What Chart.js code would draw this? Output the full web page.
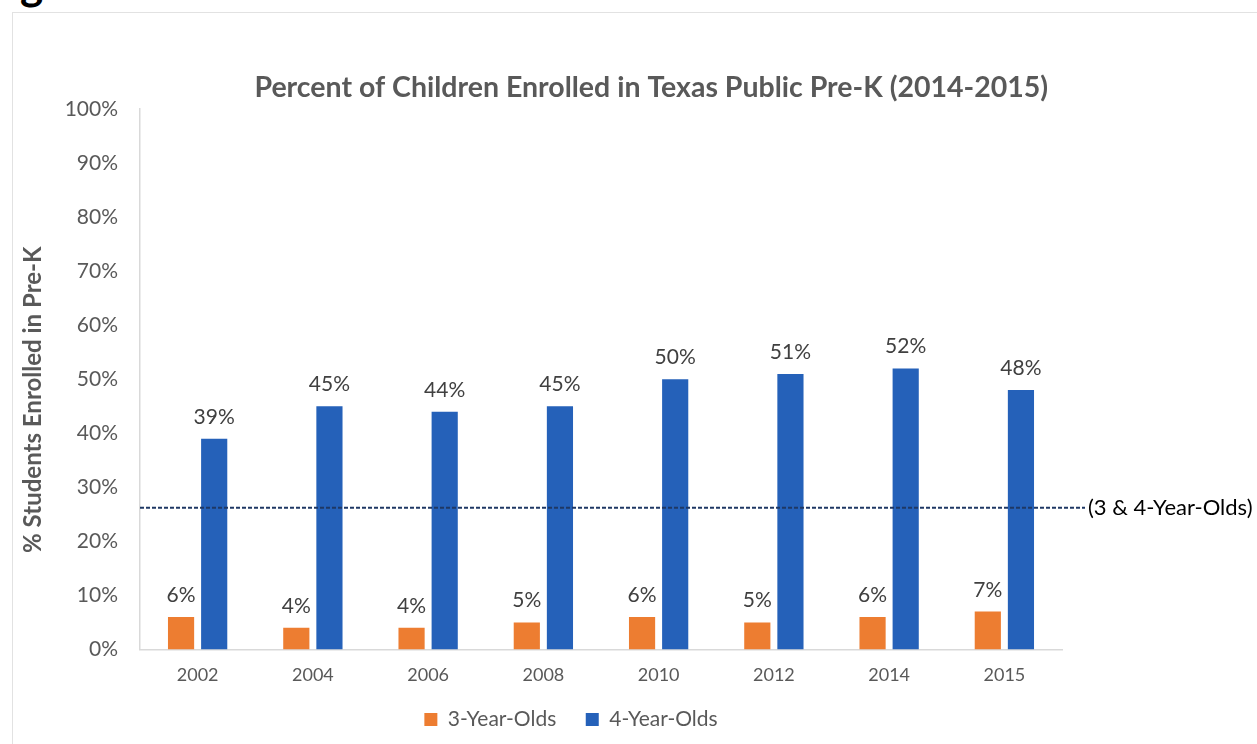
<!DOCTYPE html>
<html>
<head>
<meta charset="utf-8">
<script src="https://cdn.jsdelivr.net/npm/chart.js@4/dist/chart.umd.min.js"></script>
<style>
  html, body { margin: 0; padding: 0; background: #fff; overflow: hidden; }
  #fig { position: absolute; left: -16px; top: -39px; font: bold 44px Lato, sans-serif; line-height: 44px; color: #000; white-space: nowrap; }
  #frame { position: absolute; left: 12px; top: 12px; width: 1300px; height: 800px; border: 1px solid #e2e2e2; }
  #wrap { position: absolute; left: 0; top: 0; width: 1257px; height: 744px; }
</style>
</head>
<body>
<div id="fig">Figure 1</div>
<div id="frame"></div>
<div id="wrap"><canvas id="enrollChart" width="1257" height="744"></canvas></div>
<script>
// Data
const years = ['2002', '2004', '2006', '2008', '2010', '2012', '2014', '2015'];
const threeYearOlds = [6, 4, 4, 5, 6, 5, 6, 7];
const fourYearOlds = [39, 45, 44, 45, 50, 51, 52, 48];
const combinedLine = [26.2]; // dashed line, 3 & 4 year olds
const yTicks = [0, 10, 20, 30, 40, 50, 60, 70, 80, 90, 100];

const textGray = '#595959';
const fontFamily = 'Lato, sans-serif';

// bar value labels, like Excel data labels
const valueLabels = {
  id: 'valueLabels',
  afterDatasetsDraw(chart) {
    const ctx = chart.ctx;
    ctx.save();
    ctx.font = '21px ' + fontFamily;
    ctx.fillStyle = '#404040';
    ctx.textAlign = 'center';
    ctx.textBaseline = 'alphabetic';
    chart.data.datasets.forEach((ds, i) => {
      chart.getDatasetMeta(i).data.forEach((bar, j) => {
        ctx.fillText(ds.data[j] + '%', bar.x, bar.y - 15);
      });
    });
    ctx.restore();
  }
};

// dashed reference line with its label on the right
const refLine = {
  id: 'refLine',
  afterDatasetsDraw(chart) {
    const ctx = chart.ctx;
    const area = chart.chartArea;
    const y = chart.scales.y.getPixelForValue(combinedLine[0]);
    ctx.save();
    ctx.strokeStyle = '#1F3864';
    ctx.lineWidth = 2;
    ctx.setLineDash([4, 2]);
    ctx.beginPath();
    ctx.moveTo(area.left, y);
    ctx.lineTo(area.right + 23, y);
    ctx.stroke();
    ctx.setLineDash([]);
    ctx.font = '22px ' + fontFamily;
    ctx.fillStyle = '#000';
    ctx.textAlign = 'left';
    ctx.textBaseline = 'middle';
    ctx.fillText('(3 & 4-Year-Olds)', area.right + 26, y);
    ctx.restore();
  }
};

const ctx = document.getElementById('enrollChart').getContext('2d');
const enrollChart = new Chart(ctx, {
  type: 'bar',
  data: {
    labels: years,
    datasets: [{
      label: '3-Year-Olds',
      data: threeYearOlds,
      backgroundColor: '#ED7D31',
      categoryPercentage: 0.575,
      barPercentage: 0.79
    }, {
      label: '4-Year-Olds',
      data: fourYearOlds,
      backgroundColor: '#2561B9',
      categoryPercentage: 0.575,
      barPercentage: 0.79
    }]
  },
  options: {
    responsive: false,
    animation: false,
    layout: { padding: { top: 62, left: 10, right: 125, bottom: 4 } },
    plugins: {
      title: {
        display: true,
        fullSize: false,
        align: 'end',
        text: 'Percent of Children Enrolled in Texas Public Pre-K (2014-2015)\u00A0\u00A0',
        color: textGray,
        font: { family: fontFamily, size: 28.5, weight: 'bold' },
        padding: { top: 9, bottom: 4 }
      },
      legend: {
        position: 'bottom',
        labels: {
          color: textGray,
          font: { family: fontFamily, size: 21 },
          boxWidth: 13,
          boxHeight: 13,
          padding: 8,
          // wider gap between the two entries
          generateLabels: (chart) => {
            const items = Chart.defaults.plugins.legend.labels.generateLabels(chart);
            items.forEach((it, i) => {
              if (i < items.length - 1) it.text += '\u00A0\u00A0\u00A0\u00A0';
            });
            return items;
          }
        }
      },
      tooltip: { enabled: false }
    },
    scales: {
      x: {
        grid: { display: false, drawTicks: false },
        border: { display: true, color: '#d9d9d9', width: 1.5 },
        ticks: { color: textGray, font: { family: fontFamily, size: 18 }, padding: 15 }
      },
      y: {
        min: 0,
        max: 100,
        afterBuildTicks: (s) => { s.ticks = yTicks.map(v => ({ value: v })); },
        afterFit: (s) => { s.width = 130; },
        grid: { display: false, drawTicks: false },
        border: { display: true, color: '#d9d9d9', width: 1.5 },
        ticks: {
          color: textGray,
          font: { family: fontFamily, size: 21 },
          padding: 22,
          callback: (v) => v + '%'
        },
        title: {
          display: true,
          text: '% Students Enrolled in Pre-K\u00A0\u00A0\u00A0\u00A0\u00A0\u00A0\u00A0',
          color: textGray,
          font: { family: fontFamily, size: 24, weight: 'bold' },
          padding: { top: 9, bottom: 0 }
        }
      },
      // empty axis on the right, keeps room for the dashed line label
      y2: {
        position: 'right',
        display: true,
        min: 0,
        max: 100,
        afterFit: (s) => { s.width = 70; },
        grid: { display: false, drawTicks: false },
        border: { display: false },
        ticks: { display: false }
      }
    }
  },
  plugins: [valueLabels, refLine]
});
</script>
</body>
</html>
